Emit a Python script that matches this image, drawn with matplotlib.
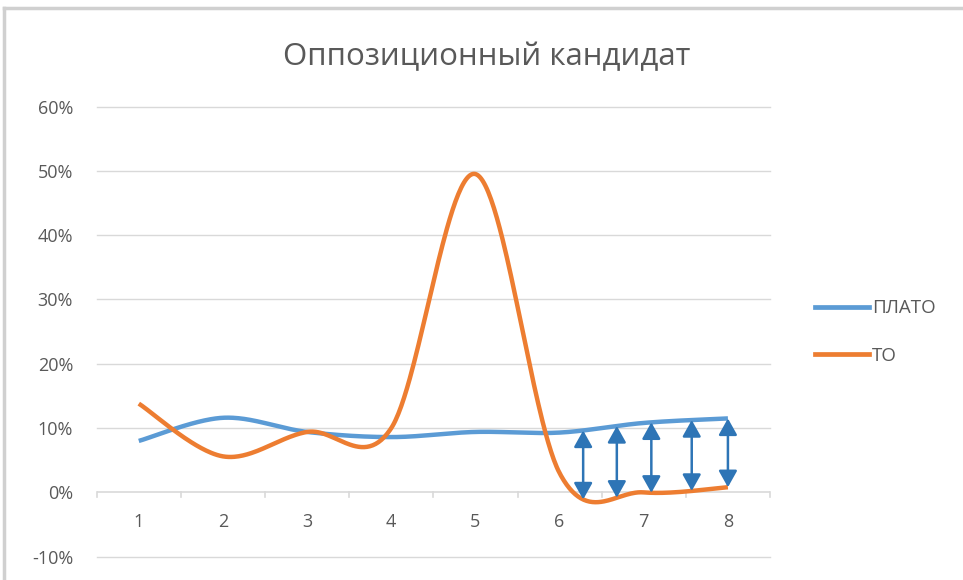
import numpy as np
import matplotlib
matplotlib.use("Agg")
import matplotlib.pyplot as plt
from matplotlib.lines import Line2D

# ---------------------------------------------------------
# data
# ---------------------------------------------------------
categories = [1, 2, 3, 4, 5, 6, 7, 8]
plato = [8.0, 11.6, 9.4, 8.6, 9.4, 9.3, 10.8, 11.5]
to = [13.8, 5.6, 9.4, 10.0, 49.5, 3.0, 0.0, 0.8]
arrow_x = [6.28, 6.68, 7.09, 7.57, 8.0]
y_ticks = [-10, 0, 10, 20, 30, 40, 50, 60]

BLUE = "#5B9BD5"
ORANGE = "#ED7D31"
ARROW = "#2E75B6"
GRID = "#D9D9D9"
TEXT = "#595959"

plt.rcParams["font.family"] = ["Open Sans", "DejaVu Sans"]


# Excel-like smoothed line: cubic bezier segments, tension 1/6
def smooth(xs, ys, n=60):
    pts = np.column_stack([xs, ys]).astype(float)
    ext = np.vstack([pts[0], pts, pts[-1]])
    out = []
    for i in range(len(pts) - 1):
        p0 = ext[i + 1]
        p3 = ext[i + 2]
        c1 = p0 + (ext[i + 2] - ext[i]) / 6.0
        c2 = p3 - (ext[i + 3] - ext[i + 1]) / 6.0
        t = np.linspace(0, 1, n)[:, None]
        seg = ((1 - t) ** 3) * p0 + 3 * ((1 - t) ** 2) * t * c1 \
            + 3 * (1 - t) * t ** 2 * c2 + t ** 3 * p3
        out.append(seg if i == 0 else seg[1:])
    out = np.vstack(out)
    return out[:, 0], out[:, 1]


bx, by = smooth(categories, plato)
ox, oy = smooth(categories, to)

fig = plt.figure(figsize=(9.63, 5.80), dpi=100)
ax = fig.add_axes([96.7 / 963, 1 - 556.7 / 580, (770 - 96.7) / 963, (556.7 - 106.5) / 580])

for v in y_ticks:
    if v != 0:
        ax.axhline(v, color=GRID, lw=1, zorder=0, clip_on=False)

ax.plot(bx, by, color=BLUE, lw=3.2, solid_capstyle="butt", zorder=3)
ax.plot(ox, oy, color=ORANGE, lw=3.2, solid_capstyle="butt", zorder=3)

# double-headed arrows between the two curves
for xa in arrow_x:
    top = np.interp(xa, bx, by)
    bot = np.interp(xa, ox, oy)
    ax.annotate("", xy=(xa, top), xytext=(xa, bot),
                arrowprops=dict(arrowstyle="<|-|>,head_length=1.0,head_width=0.56",
                                color=ARROW, lw=1.8, shrinkA=0, shrinkB=0),
                zorder=5)

ax.set_xlim(0.5, 8.5)
ax.set_ylim(-10, 60)
ax.set_yticks(y_ticks)
ax.set_yticklabels([f"{v}%" for v in y_ticks])
ax.set_xticks([])

for s in ax.spines.values():
    s.set_visible(False)
ax.tick_params(axis="y", length=0, pad=17, labelsize=13, labelcolor=TEXT)

# category axis at 0 with tick marks between categories
ax.axhline(0, color=GRID, lw=1.2, zorder=1)
for xt in np.arange(0.5, 9.0, 1.0):
    ax.plot([xt, xt], [0, -0.75], color=GRID, lw=1.2, zorder=1, clip_on=False)
for c in categories:
    ax.text(c, -4.6, str(c), ha="center", va="center", fontsize=13, color=TEXT)

fig.text(487 / 963, 1 - 57 / 580, "Оппозиционный кандидат", ha="center", va="center",
         fontsize=22.5, color=TEXT)

# legend
handles = [Line2D([], [], color=BLUE, lw=3.4), Line2D([], [], color=ORANGE, lw=3.4)]
fig.legend(handles, ["ПЛАТО", "ТО"], loc="center left", bbox_to_anchor=(798 / 963, 1 - 332 / 580),
           frameon=False, fontsize=13.5, labelcolor=TEXT, handlelength=2.9,
           handletextpad=0.15, labelspacing=1.55)

# frame on top and left
fig.add_artist(Line2D([4 / 963, 4 / 963], [0, 1 - 8 / 580], color="#D0D0D0", lw=2.5))
fig.add_artist(Line2D([4 / 963, 1], [1 - 8 / 580, 1 - 8 / 580], color="#D0D0D0", lw=2.5))

fig.savefig("out.png", dpi=100, facecolor="white")
